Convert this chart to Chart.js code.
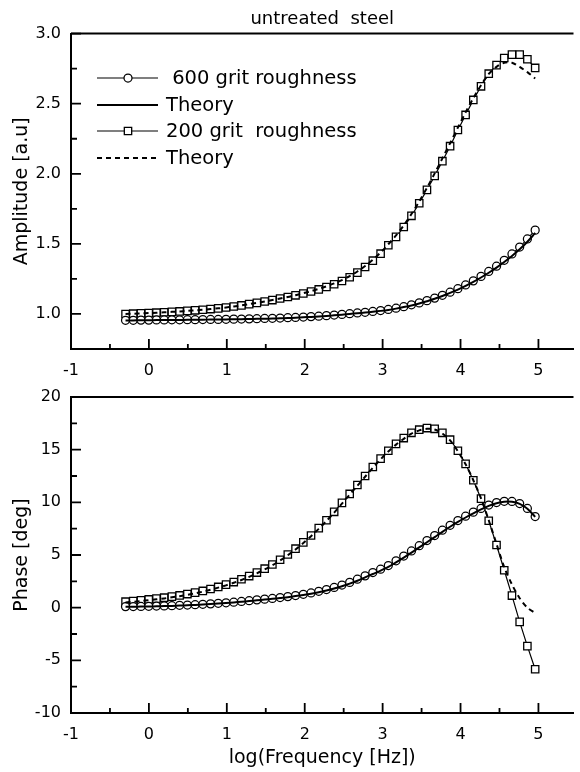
<!DOCTYPE html>
<html lang="en">
<head>
<meta charset="UTF-8" />
<title>untreated steel</title>
<script src="https://cdn.jsdelivr.net/npm/chart.js@4"></script>
<style>
   html, body { margin: 0; padding: 0; background: #fff; }
   #wrap { position: relative; width: 580px; height: 772px; }
   #wrap canvas { position: absolute; left: 0; top: 0; }
</style>
</head>
<body>
<div id="wrap">
   <canvas id="chart_amp" width="580" height="772"></canvas>
   <canvas id="chart_phase" width="580" height="772"></canvas>
</div>
<script>
   // log10 of the measured frequencies
   const logFreq = [-0.300, -0.201, -0.102, -0.002, 0.097, 0.196, 0.295, 0.394, 0.494, 0.593,
      0.692, 0.791, 0.890, 0.990, 1.089, 1.188, 1.287, 1.386, 1.486, 1.585,
      1.684, 1.783, 1.882, 1.982, 2.081, 2.180, 2.279, 2.378, 2.478, 2.577,
      2.676, 2.775, 2.874, 2.974, 3.073, 3.172, 3.271, 3.370, 3.470, 3.569,
      3.668, 3.767, 3.866, 3.966, 4.065, 4.164, 4.263, 4.362, 4.462, 4.561,
      4.660, 4.759, 4.858, 4.958];

   // amplitude [a.u]
   const amp600 = [0.955, 0.955, 0.956, 0.956, 0.957, 0.957, 0.958, 0.958, 0.959, 0.959,
      0.960, 0.961, 0.961, 0.962, 0.963, 0.964, 0.965, 0.966, 0.968, 0.969,
      0.971, 0.973, 0.975, 0.978, 0.981, 0.984, 0.988, 0.992, 0.997, 1.002,
      1.007, 1.012, 1.018, 1.024, 1.032, 1.041, 1.052, 1.065, 1.079, 1.095,
      1.113, 1.133, 1.155, 1.180, 1.207, 1.236, 1.268, 1.303, 1.341, 1.383,
      1.428, 1.477, 1.535, 1.598];
   const amp600Theory = [0.954, 0.954, 0.955, 0.955, 0.956, 0.956, 0.957, 0.957, 0.958, 0.958,
      0.959, 0.960, 0.960, 0.961, 0.962, 0.963, 0.964, 0.965, 0.966, 0.967,
      0.969, 0.971, 0.973, 0.976, 0.979, 0.982, 0.986, 0.990, 0.995, 1.000,
      1.005, 1.010, 1.016, 1.022, 1.029, 1.038, 1.049, 1.061, 1.075, 1.091,
      1.108, 1.128, 1.150, 1.174, 1.200, 1.229, 1.260, 1.294, 1.331, 1.371,
      1.414, 1.461, 1.515, 1.578];
   const amp200 = [1.000, 1.002, 1.004, 1.006, 1.009, 1.012, 1.015, 1.018, 1.022, 1.026,
      1.030, 1.035, 1.040, 1.046, 1.053, 1.061, 1.070, 1.079, 1.089, 1.099,
      1.110, 1.121, 1.133, 1.146, 1.160, 1.175, 1.192, 1.212, 1.235, 1.262,
      1.295, 1.335, 1.380, 1.430, 1.490, 1.550, 1.620, 1.700, 1.790, 1.885,
      1.985, 2.090, 2.197, 2.312, 2.420, 2.527, 2.624, 2.714, 2.775, 2.826,
      2.850, 2.850, 2.817, 2.755];
   const amp200Theory = [1.000, 1.002, 1.004, 1.006, 1.009, 1.012, 1.015, 1.018, 1.022, 1.026,
      1.030, 1.035, 1.040, 1.046, 1.053, 1.061, 1.070, 1.079, 1.089, 1.099,
      1.110, 1.121, 1.134, 1.148, 1.163, 1.179, 1.197, 1.218, 1.242, 1.270,
      1.303, 1.342, 1.387, 1.438, 1.497, 1.560, 1.632, 1.713, 1.803, 1.900,
      2.003, 2.110, 2.218, 2.330, 2.438, 2.540, 2.632, 2.712, 2.763, 2.792,
      2.792, 2.762, 2.725, 2.680];

   // phase [deg]
   const phase600 = [0.10, 0.11, 0.12, 0.13, 0.15, 0.17, 0.19, 0.22, 0.25, 0.28,
      0.32, 0.36, 0.41, 0.46, 0.52, 0.59, 0.66, 0.74, 0.81, 0.88,
      0.96, 1.05, 1.15, 1.27, 1.40, 1.55, 1.72, 1.92, 2.15, 2.40,
      2.70, 3.02, 3.33, 3.65, 4.00, 4.45, 4.90, 5.38, 5.88, 6.37,
      6.85, 7.35, 7.82, 8.27, 8.68, 9.07, 9.42, 9.74, 9.98, 10.10,
      10.08, 9.88, 9.42, 8.65];
   const phase600Theory = [0.08, 0.09, 0.10, 0.11, 0.13, 0.15, 0.17, 0.20, 0.23, 0.26,
      0.30, 0.34, 0.39, 0.44, 0.50, 0.56, 0.63, 0.70, 0.77, 0.84,
      0.92, 1.00, 1.10, 1.21, 1.33, 1.47, 1.63, 1.82, 2.04, 2.28,
      2.56, 2.88, 3.20, 3.52, 3.87, 4.30, 4.75, 5.22, 5.72, 6.21,
      6.70, 7.20, 7.68, 8.14, 8.56, 8.96, 9.33, 9.66, 9.92, 10.06,
      10.05, 9.85, 9.40, 8.62];
   const phase200 = [0.57, 0.63, 0.70, 0.78, 0.86, 0.95, 1.05, 1.16, 1.29, 1.43,
      1.59, 1.77, 1.97, 2.19, 2.43, 2.70, 3.00, 3.33, 3.70, 4.10,
      4.55, 5.05, 5.60, 6.20, 6.85, 7.55, 8.30, 9.10, 9.95, 10.80,
      11.65, 12.50, 13.35, 14.15, 14.90, 15.55, 16.10, 16.60, 16.90, 17.05,
      16.98, 16.60, 15.95, 14.90, 13.65, 12.10, 10.35, 8.25, 5.95, 3.55,
      1.15, -1.35, -3.65, -5.85];
   const phase200Theory = [0.50, 0.56, 0.63, 0.71, 0.79, 0.88, 0.98, 1.09, 1.22, 1.36,
      1.52, 1.70, 1.90, 2.12, 2.36, 2.63, 2.93, 3.26, 3.63, 4.03,
      4.48, 4.98, 5.53, 6.13, 6.78, 7.48, 8.23, 9.03, 9.88, 10.73,
      11.58, 12.43, 13.28, 14.08, 14.83, 15.48, 16.03, 16.53, 16.83, 16.98,
      16.91, 16.53, 15.88, 14.85, 13.62, 12.10, 10.38, 8.30, 6.05, 3.85,
      2.20, 0.90, 0.00, -0.50];

   const seriesLabels = [" 600 grit roughness", "Theory", "200 grit  roughness", "Theory"];

   // ticks
   const xTicks = [-1, 0, 1, 2, 3, 4, 5];
   const xMinor = [-0.5, 0.5, 1.5, 2.5, 3.5, 4.5];
   const ampTicks = [1.0, 1.5, 2.0, 2.5, 3.0];
   const ampMinor = [1.25, 1.75, 2.25, 2.75];
   const phaseTicks = [-10, -5, 0, 5, 10, 15, 20];
   const phaseMinor = [-7.5, -2.5, 2.5, 7.5, 12.5, 17.5];

   const FONT = "'DejaVu Sans', 'Liberation Sans', Arial, sans-serif";

   function pts(arr) {
      return logFreq.map((x, i) => ({ x: x, y: arr[i] }));
   }

   // inward ticks + top border line
   const framePlugin = {
      id: "frame",
      afterDatasetsDraw(chart, args, o) {
         const ctx = chart.ctx;
         const a = chart.chartArea;
         const sx = chart.scales.x;
         const sy = chart.scales.y;
         ctx.save();
         ctx.strokeStyle = "#000";
         ctx.lineWidth = 1.8;
         ctx.beginPath();
         xTicks.forEach((v) => {
            const p = sx.getPixelForValue(v);
            ctx.moveTo(p, a.bottom);
            ctx.lineTo(p, a.bottom - 10);
         });
         xMinor.forEach((v) => {
            const p = sx.getPixelForValue(v);
            ctx.moveTo(p, a.bottom);
            ctx.lineTo(p, a.bottom - 5);
         });
         o.yMajor.forEach((v) => {
            const p = sy.getPixelForValue(v);
            ctx.moveTo(a.left, p);
            ctx.lineTo(a.left + 10, p);
         });
         o.yMinor.forEach((v) => {
            const p = sy.getPixelForValue(v);
            ctx.moveTo(a.left, p);
            ctx.lineTo(a.left + 6, p);
         });
         ctx.stroke();
         ctx.lineWidth = 2;
         ctx.beginPath();
         ctx.moveTo(a.left, a.top);
         ctx.lineTo(a.right, a.top);
         ctx.stroke();
         ctx.restore();
      },
   };

   // legend drawn as line sample + marker + text
   const legendPlugin = {
      id: "sampleLegend",
      afterDraw(chart, args, o) {
         if (!o.show) return;
         const ctx = chart.ctx;
         const rowsY = [78, 105, 131, 158];
         chart.data.datasets.forEach((ds, i) => {
            const y = rowsY[i];
            ctx.save();
            ctx.strokeStyle = "#000";
            ctx.lineWidth = ds.borderWidth;
            ctx.setLineDash(ds.borderDash || []);
            ctx.beginPath();
            ctx.moveTo(97, y);
            ctx.lineTo(158, y);
            ctx.stroke();
            ctx.setLineDash([]);
            if (ds.pointRadius) {
               ctx.fillStyle = "#fff";
               ctx.lineWidth = ds.pointBorderWidth;
               ctx.beginPath();
               if (ds.pointStyle === "rect") {
                  const s = ds.pointRadius / Math.SQRT2;
                  ctx.rect(128 - s, y - s, 2 * s, 2 * s);
               } else {
                  ctx.arc(128, y, ds.pointRadius, 0, Math.PI * 2);
               }
               ctx.fill();
               ctx.stroke();
            }
            ctx.fillStyle = "#000";
            ctx.font = "19.5px " + FONT;
            ctx.textBaseline = "middle";
            ctx.fillText(ds.label, 166, y + 1);
            ctx.restore();
         });
      },
   };

   function makeDatasets(d600, t600, d200, t200) {
      return [
         {
            label: seriesLabels[0],
            data: pts(d600),
            borderColor: "#000",
            borderWidth: 1.2,
            pointStyle: "circle",
            pointRadius: 4,
            pointBorderWidth: 1.25,
            pointBackgroundColor: "#fff",
            pointBorderColor: "#000",
            order: 2,
         },
         {
            label: seriesLabels[1],
            data: pts(t600),
            borderColor: "#000",
            borderWidth: 2,
            pointRadius: 0,
            tension: 0.3,
            order: 1,
         },
         {
            label: seriesLabels[2],
            data: pts(d200),
            borderColor: "#000",
            borderWidth: 1.2,
            pointStyle: "rect",
            pointRadius: 5.2,
            pointBorderWidth: 1.3,
            pointBackgroundColor: "#fff",
            pointBorderColor: "#000",
            order: 2,
         },
         {
            label: seriesLabels[3],
            data: pts(t200),
            borderColor: "#000",
            borderWidth: 2,
            borderDash: [5, 4],
            pointRadius: 0,
            tension: 0.3,
            order: 1,
         },
      ];
   }

   function makeConfig(c) {
      return {
         type: "line",
         data: { datasets: makeDatasets(c.d600, c.t600, c.d200, c.t200) },
         options: {
            responsive: false,
            animation: false,
            devicePixelRatio: 1,
            layout: { padding: c.padding },
            plugins: {
               legend: { display: false },
               tooltip: { enabled: false },
               title: c.title
                  ? {
                       display: true,
                       text: c.title,
                       fullSize: false,
                       color: "#000",
                       font: { family: FONT, size: 18, weight: "normal" },
                       padding: { top: 9, bottom: 3 },
                    }
                  : { display: false },
               frame: { yMajor: c.yTicks, yMinor: c.yMinor },
               sampleLegend: { show: c.legend },
            },
            scales: {
               x: {
                  type: "linear",
                  min: -1,
                  max: 5.45,
                  afterBuildTicks: (s) => {
                     s.ticks = xTicks.map((v) => ({ value: v }));
                  },
                  afterFit: (s) => {
                     s.height = c.xHeight;
                  },
                  ticks: {
                     includeBounds: false,
                     color: "#000",
                     padding: 12,
                     maxRotation: 0,
                     font: { family: FONT, size: 16 },
                  },
                  grid: { drawOnChartArea: false, drawTicks: false },
                  border: { display: true, color: "#000", width: 2 },
                  title: c.xTitle
                     ? {
                          display: true,
                          text: c.xTitle,
                          color: "#000",
                          font: { family: FONT, size: 19 },
                          padding: { top: 0, bottom: 2.6 },
                       }
                     : { display: false },
               },
               y: {
                  min: c.yMin,
                  max: c.yMax,
                  afterBuildTicks: (s) => {
                     s.ticks = c.yTicks.map((v) => ({ value: v }));
                  },
                  afterFit: (s) => {
                     s.width = 71;
                  },
                  ticks: {
                     includeBounds: false,
                     color: "#000",
                     padding: 10,
                     font: { family: FONT, size: 16 },
                     callback: c.yFormat,
                  },
                  grid: { drawOnChartArea: false, drawTicks: false },
                  border: { display: true, color: "#000", width: 2 },
                  title: {
                     display: true,
                     text: c.yTitle,
                     color: "#000",
                     font: { family: FONT, size: 19 },
                     padding: { top: 10.5, bottom: 0 },
                  },
               },
            },
         },
         plugins: [framePlugin, legendPlugin],
      };
   }

   const grafico_amp = new Chart(
      document.getElementById("chart_amp"),
      makeConfig({
         d600: amp600, t600: amp600Theory, d200: amp200, t200: amp200Theory,
         padding: { top: 0, left: 0, right: 0, bottom: 382 },
         title: "untreated  steel",
         legend: true,
         xHeight: 41,
         xTitle: null,
         yMin: 0.75, yMax: 3.0,
         yTicks: ampTicks, yMinor: ampMinor,
         yFormat: (v) => Number(v).toFixed(1),
         yTitle: "Amplitude [a.u]",
      })
   );

   const grafico_phase = new Chart(
      document.getElementById("chart_phase"),
      makeConfig({
         d600: phase600, t600: phase600Theory, d200: phase200, t200: phase200Theory,
         padding: { top: 397, left: 0, right: 0, bottom: 0 },
         title: null,
         legend: false,
         xHeight: 59,
         xTitle: "log(Frequency [Hz])",
         yMin: -10, yMax: 20,
         yTicks: phaseTicks, yMinor: phaseMinor,
         yFormat: (v) => String(v),
         yTitle: "Phase [deg]",
      })
   );
</script>
</body>
</html>
